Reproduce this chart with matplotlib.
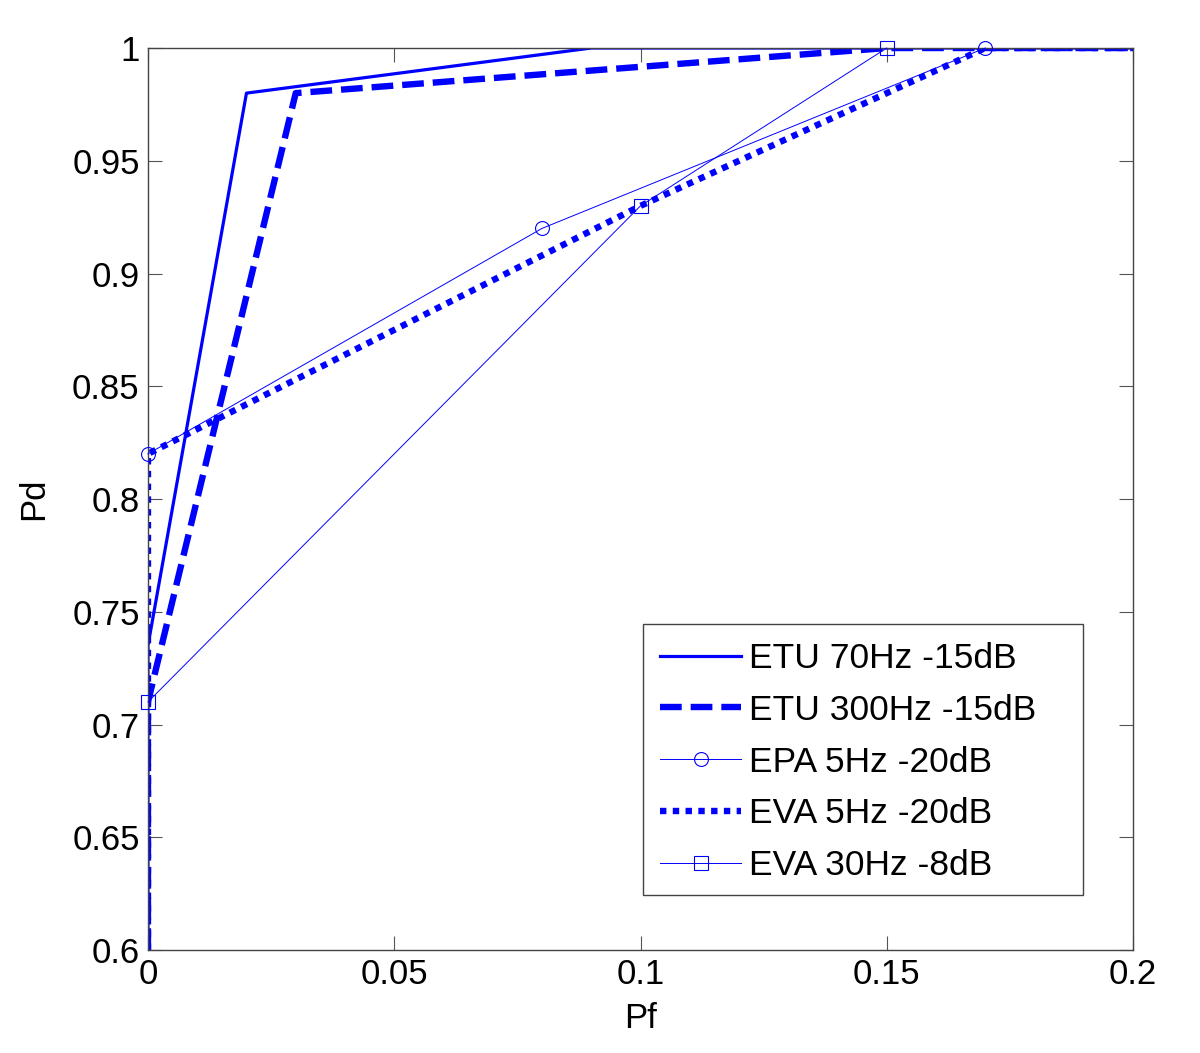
import matplotlib.pyplot as plt
import matplotlib.patches as mpatches
import numpy as np

plt.rcParams['font.family'] = ['Liberation Sans', 'DejaVu Sans']

# ETU 70Hz -15dB
etu70_pf = [0.0, 0.0, 0.02, 0.09, 0.2]
etu70_pd = [0.6, 0.735, 0.98, 1.0, 1.0]
# ETU 300Hz -15dB
etu300_pf = [0.0, 0.0, 0.03, 0.15, 0.2]
etu300_pd = [0.6, 0.71, 0.98, 1.0, 1.0]
# EPA 5Hz -20dB
epa5_pf = [0.0, 0.08, 0.17]
epa5_pd = [0.82, 0.92, 1.0]
# EVA 5Hz -20dB
eva5_pf = [0.0, 0.0, 0.1, 0.17, 0.2]
eva5_pd = [0.6, 0.82, 0.93, 1.0, 1.0]
# EVA 30Hz -8dB
eva30_pf = [0.0, 0.1, 0.15]
eva30_pd = [0.71, 0.93, 1.0]

labels = ['ETU 70Hz -15dB', 'ETU 300Hz -15dB', 'EPA 5Hz -20dB',
          'EVA 5Hz -20dB', 'EVA 30Hz -8dB']

blue = '#0000ff'

fig = plt.figure(figsize=(12, 10.53), dpi=100)
ax = fig.add_axes([0.1233, 0.0978, 0.8209, 0.8566])

ax.plot(etu70_pf, etu70_pd, color=blue, lw=2.3, label=labels[0])
ax.plot(etu300_pf, etu300_pd, color=blue, lw=4.6, dashes=(3.4, 1.4), label=labels[1])
ax.plot(epa5_pf, epa5_pd, color=blue, lw=0.7, marker='o', ms=10, mfc='none',
        mec=blue, mew=0.8, label=labels[2], clip_on=False, zorder=3)
ax.plot(eva5_pf, eva5_pd, color=blue, lw=4.6, dashes=(1.0, 1.0), label=labels[3])
ax.plot(eva30_pf, eva30_pd, color=blue, lw=0.7, marker='s', ms=9.5, mfc='none',
        mec=blue, mew=0.8, label=labels[4], clip_on=False, zorder=3)

ax.set_xlim(0, 0.2)
ax.set_ylim(0.6, 1.0)
ax.set_xticks(np.arange(0, 0.201, 0.05))
ax.set_xticklabels(['0', '0.05', '0.1', '0.15', '0.2'])
ax.set_yticks(np.arange(0.6, 1.001, 0.05))
ax.set_yticklabels(['0.6', '0.65', '0.7', '0.75', '0.8', '0.85', '0.9', '0.95', '1'])
ax.tick_params(direction='in', length=10, width=0.8, labelsize=25,
               top=True, right=True, color='#555555', pad=6)
for s in ax.spines.values():
    s.set_color('#444444')
    s.set_linewidth(1.0)

ax.set_xlabel('Pf', fontsize=25, labelpad=8)
ax.set_ylabel('Pd', fontsize=25, labelpad=16)

# legend box drawn separately (MATLAB style, extra room on the right)
box = mpatches.Rectangle((0.5025, 0.061), 0.4465, 0.3004, transform=ax.transAxes,
                         facecolor='white', edgecolor='#444444', lw=1.0, zorder=4)
ax.add_patch(box)
leg = ax.legend(loc='upper left', bbox_to_anchor=(0.5198, 0.3415), fontsize=25.5,
                frameon=False, handlelength=2.3, handletextpad=0.2,
                borderpad=0, labelspacing=0.53, borderaxespad=0)
leg.set_zorder(5)

fig.savefig('out.png', dpi=100)
